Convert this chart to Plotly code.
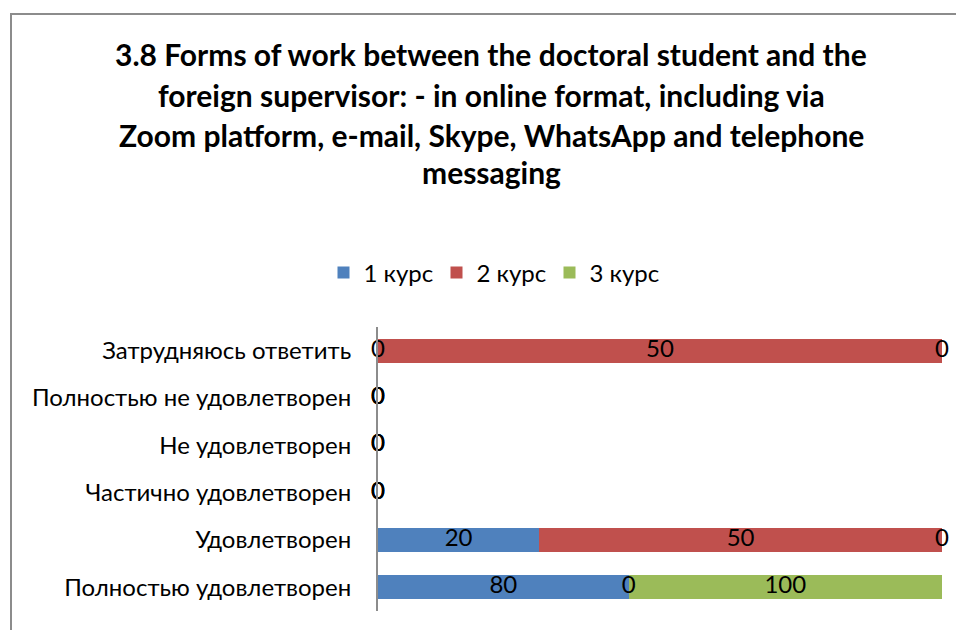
import plotly.graph_objects as go

categories = ["Затрудняюсь ответить", "Полностью не удовлетворен", "Не удовлетворен",
              "Частично удовлетворен", "Удовлетворен", "Полностью удовлетворен"]
series_names = ["1 курс", "2 курс", "3 курс"]
kurs1 = [0, 0, 0, 0, 20, 80]
kurs2 = [50, 0, 0, 0, 50, 0]
kurs3 = [0, 0, 0, 0, 0, 100]
colors = ["#4F81BD", "#C0504D", "#9BBB59"]
title_lines = ["3.8 Forms of work between the doctoral student and the",
               "foreign supervisor: - in online format, including via",
               "Zoom platform, e-mail, Skype, WhatsApp and telephone",
               "messaging"]

series = [kurs1, kurs2, kurs3]
OX, OY = 8, 8  # page body margin
W, H = 964 - OX, 630 - OY
L, R, T, B = 378 - OX, 22, 327 - OY, 19
FONT = "Lato"
pw, ph = W - L - R, H - T - B


def px(xpix):
    return (xpix - OX - L) / pw


def py(ypix):
    return (H - B - (ypix - OY)) / ph


fig = go.Figure()
for name, vals, col in zip(series_names, series, colors):
    fig.add_trace(go.Bar(y=categories, x=vals, name=name, orientation="h",
                         marker=dict(color=col, line=dict(width=0)),
                         hoverinfo="x+y+name"))

# data labels at segment centres (computed from normalised values)
totals = [sum(s[i] for s in series) for i in range(len(categories))]
lx, ly, lt = [], [], []
for i, cat in enumerate(categories):
    cum = 0.0
    for s in series:
        pct = (s[i] / totals[i] * 100) if totals[i] else 0.0
        lx.append(cum + pct / 2)
        ly.append(cat)
        lt.append(str(s[i]))
        cum += pct
fig.add_trace(go.Scatter(x=lx, y=ly, text=lt, mode="text", textposition="middle center",
                         textfont=dict(family=FONT, size=24, color="#000000"),
                         showlegend=False, hoverinfo="skip", cliponaxis=False))

fig.update_layout(
    width=W, height=H,
    margin=dict(l=L, r=R, t=T, b=B, pad=0),
    barmode="stack", barnorm="percent", bargap=0.49,
    paper_bgcolor="white", plot_bgcolor="white",
    font=dict(family=FONT, size=24, color="#000000"),
    showlegend=True,
    legend=dict(orientation="h", x=px(493), xanchor="center",
                y=py(273), yanchor="middle",
                font=dict(family=FONT, size=24, color="#000000"),
                traceorder="normal", itemwidth=30, entrywidth=68,
                bgcolor="rgba(0,0,0,0)"),
)
fig.update_xaxes(range=[0, 100], visible=False, fixedrange=True)
fig.update_yaxes(autorange="reversed", showline=True, linecolor="#8C8C8C", linewidth=2,
                 showgrid=False, ticks="", ticklabelstandoff=20,
                 tickfont=dict(family=FONT, size=24, color="#000000"), fixedrange=True)

# title lines
for line, yc in zip(title_lines, [54, 95, 135, 172]):
    fig.add_annotation(text="<b>" + line + "</b>", xref="paper", yref="paper",
                       x=px(491), y=py(yc), xanchor="center", yanchor="middle",
                       showarrow=False, font=dict(family=FONT, size=30, color="#000000"))

# outer chart border
fig.add_shape(type="rect", xref="paper", yref="paper",
              x0=px(11), x1=px(1000), y0=py(680), y1=py(14),
              line=dict(color="#8C8C8C", width=2), fillcolor="rgba(0,0,0,0)", layer="below")

fig.write_html("out.html")
